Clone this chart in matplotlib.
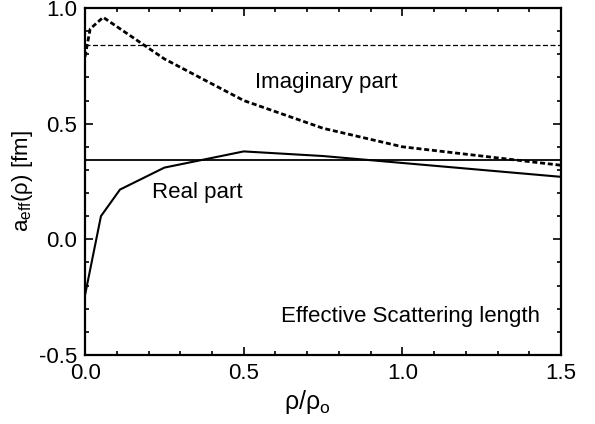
import matplotlib

matplotlib.use("Agg")
import matplotlib.pyplot as plt
from matplotlib.ticker import MultipleLocator

plt.rcParams["font.family"] = ["Liberation Sans", "DejaVu Sans"]
plt.rcParams["mathtext.default"] = "regular"

# imaginary part (dashed curve)
im_x = [0.0, 0.016, 0.057, 0.25, 0.5, 0.75, 1.0, 1.5]
im_y = [0.79, 0.91, 0.96, 0.78, 0.60, 0.48, 0.40, 0.32]
# real part (solid curve)
re_x = [0.0, 0.05, 0.11, 0.25, 0.5, 0.75, 1.0, 1.5]
re_y = [-0.24, 0.10, 0.215, 0.31, 0.38, 0.36, 0.33, 0.27]
# asymptotic values (horizontal lines)
im_inf = 0.84
re_inf = 0.345

fig = plt.figure(figsize=(5.95, 4.24), dpi=100)
ax = fig.add_axes([0.143, 0.163, 0.8, 0.818])

ax.plot(im_x, im_y, color="black", linestyle=(0, (1.8, 1.0)), linewidth=2.0)
ax.plot(re_x, re_y, color="black", linewidth=1.5)
ax.axhline(im_inf, color="black", linestyle=(0, (4, 2)), linewidth=0.9)
ax.axhline(re_inf, color="black", linewidth=1.3)

ax.text(0.536, 0.677, "Imaginary part", fontsize=16, va="center")
ax.text(0.21, 0.203, "Real part", fontsize=16, va="center")
ax.text(1.025, -0.336, "Effective Scattering length", fontsize=16, ha="center", va="center")

ax.set_xlim(0, 1.5)
ax.set_ylim(-0.5, 1.0)
ax.xaxis.set_major_locator(MultipleLocator(0.5))
ax.xaxis.set_minor_locator(MultipleLocator(0.1))
ax.yaxis.set_major_locator(MultipleLocator(0.5))
ax.yaxis.set_minor_locator(MultipleLocator(0.1))
ax.xaxis.set_major_formatter(plt.FormatStrFormatter("%.1f"))
ax.yaxis.set_major_formatter(plt.FormatStrFormatter("%.1f"))
ax.tick_params(which="both", direction="in", top=True, right=True, labelsize=16, width=1.2)
ax.tick_params(which="major", length=6, pad=6)
ax.tick_params(which="minor", length=3)
for s in ax.spines.values():
    s.set_linewidth(1.6)

ax.set_xlabel(r"$\rho/\rho_o$", fontsize=18)
ax.xaxis.set_label_coords(0.466, -0.095)
ax.set_ylabel(r"$a_{eff}(\rho)$ [fm]", fontsize=16)
ax.yaxis.set_label_coords(-0.105, 0.5)

fig.savefig("out.png", dpi=100)
